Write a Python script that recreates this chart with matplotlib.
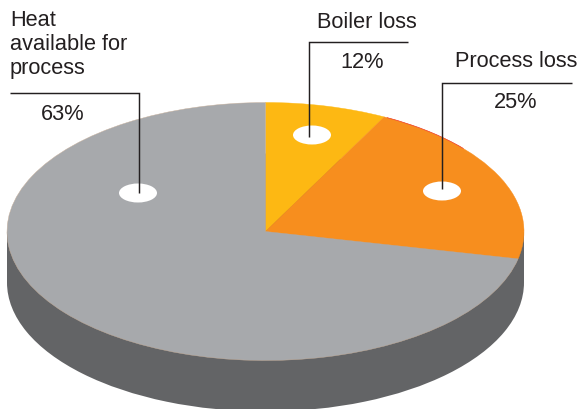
import matplotlib
matplotlib.use('Agg')
import matplotlib.pyplot as plt
from matplotlib.patches import Arc, Ellipse

plt.rcParams['font.family'] = ['Liberation Sans', 'DejaVu Sans']

# Slice sizes as drawn in the picture (the art is not to scale with its labels)
slices = [7.6, 20.8, 71.6]
colors = ['#fdb813', '#f78e1e', '#a7a9ac']
edges = ['#fdb813', '#f78e1e', '#c9b09a']
percents = ['12%', '25%', '63%']
names = ['Boiler loss', 'Process loss', 'Heat\navailable for\nprocess']

W, H = 582, 410
cx, cy = 265.5, 232.5
rx, ry = 258.5, 129
depth = 51
dark = '#636466'
ink = '#231f20'


# pixel position in the image to data position
def X(px):
    return (px - cx) / rx


def Y(py):
    return (cy - py) / ry


fig = plt.figure(figsize=(W / 100, H / 100), dpi=100)
ax = fig.add_axes([0, 0, 1, 1])

# side of the disc
ax.pie([1], colors=[dark], center=(0, -depth / ry), radius=1, frame=True)
ax.bar(0, depth / ry, width=2, bottom=-depth / ry, color=dark, linewidth=0)

# top of the disc
wedges, _ = ax.pie(slices, colors=colors, startangle=90, counterclock=False,
                   radius=1, frame=True)
for w, e in zip(wedges, edges):
    w.set_edgecolor(e)
    w.set_linewidth(0.3)

# thin red rim on the orange slice
ax.add_patch(Arc((0, 0), 2, 2, theta1=40, theta2=62, color='#ee4036', lw=0.5, zorder=4))

ax.set_aspect('auto')
ax.set_xlim(X(0), X(W))
ax.set_ylim(Y(H), Y(0))
ax.axis('off')

# white spots and leader lines
for sx, sy in [(312, 136), (442, 192), (138, 194)]:
    ax.add_patch(Ellipse((X(sx), Y(sy)), 38 / rx, 19 / ry, color='white', lw=0, zorder=5))

leaders = [([408, 309, 309], [43, 43, 138]),
           ([572, 442, 442], [84, 84, 190]),
           ([10, 139, 139], [94, 94, 194])]
for lx, ly in leaders:
    ax.plot([X(v) for v in lx], [Y(v) for v in ly], color=ink, lw=1.05,
            solid_joinstyle='miter', solid_capstyle='butt', zorder=6)

fs = 15.7
ax.text(X(317), Y(28), names[0], fontsize=fs, color=ink, va='baseline')
ax.text(X(455), Y(67), names[1], fontsize=fs, color=ink, va='baseline')
ax.text(X(10), Y(74), names[2], fontsize=fs, color=ink, va='baseline', linespacing=1.2)
ax.text(X(362), Y(68), percents[0], fontsize=fs, color=ink, va='baseline', ha='center')
ax.text(X(516), Y(108), percents[1], fontsize=fs, color=ink, va='baseline', ha='center')
ax.text(X(62.5), Y(120), percents[2], fontsize=fs, color=ink, va='baseline', ha='center')

fig.savefig('out.png', dpi=100)
